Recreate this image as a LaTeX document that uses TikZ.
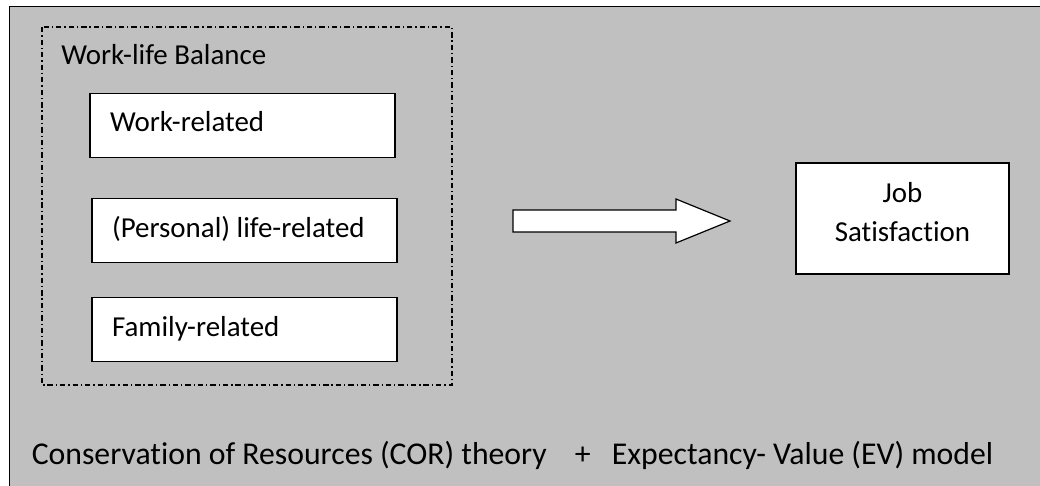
\documentclass[tikz,border=0pt]{standalone}
\usepackage{fontspec}
\setmainfont{Carlito}[Ligatures=NoCommon]
\usepackage{tikz}
\definecolor{panelgray}{RGB}{192,192,192}
\tikzstyle{factor} = [rectangle, draw=black, fill=white, line width=0.9pt, minimum height=48pt, text width=198.75pt, inner xsep=15pt, text height=15pt, text depth=5.5pt, align=flush left, font=\fontsize{21.7}{26}\selectfont]
\tikzstyle{outcome} = [rectangle, draw=black, fill=white, line width=0.9pt, minimum width=159.75pt, minimum height=83.25pt, text height=44.25pt, text depth=10.5pt, align=center, font=\fontsize{21.7}{29.25}\selectfont]
\tikzstyle{label} = [anchor=base west, inner sep=0pt, font=\fontsize{21.7}{26}\selectfont]

\begin{document}
\begin{tikzpicture}[x=0.75pt,y=-0.75pt]
\useasboundingbox (0,0) rectangle (1040,486);
\fill[white] (0,0) rectangle (1040,486);
\draw[fill=panelgray, line width=1.1pt] (9.5,6.5) rectangle (1045,495);

% work-life balance group
\draw[line width=0.8pt, dash pattern=on 4pt off 2.2pt on 1pt off 2.2pt] (42,27) rectangle (452,385);
\node (wlb) [label] at (61,64) {Work-life Balance};

\node (work) [factor] at (242.5,125.5) {Work-related};
\node (life) [factor, below of=work, node distance=79pt, xshift=1.5pt] {(Personal) life-related};
\node (family) [factor, below of=life, node distance=74.25pt] {Family-related};

% outcome
\node (job) [outcome] at (902.5,218.5) {Job\\Satisfaction};
\draw[fill=white, line width=0.9pt] (513,210) -- (676,210) -- (676,199) -- (730,221) -- (676,243) -- (676,232) -- (513,232) -- cycle;

\node (theory) [label, font=\fontsize{23.8}{28}\selectfont] at (31.5,464) {Conservation of Resources (COR) theory\hspace{21pt}+\hspace{16pt}Expectancy- Value (EV) model};
\end{tikzpicture}
\end{document}
